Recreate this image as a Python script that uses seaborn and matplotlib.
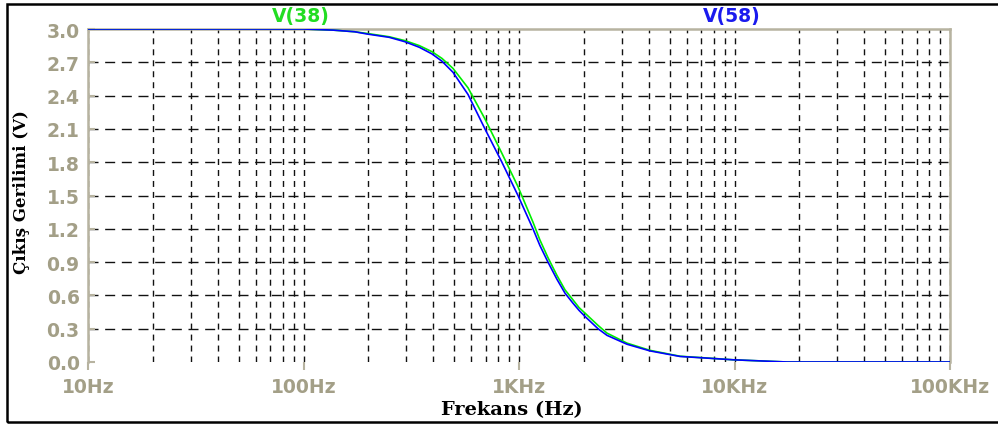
import matplotlib
matplotlib.use("Agg")
import matplotlib.pyplot as plt
from matplotlib.patches import Rectangle
from matplotlib.ticker import FixedLocator, NullFormatter
import seaborn as sns
import pandas as pd

# ---- data ----
freq_hz = [10, 100, 137, 173, 197, 250, 296, 345, 395, 439, 494, 580, 695,
           833, 989, 1161, 1250, 1363, 1500, 1635, 1780, 1900, 2025, 2326,
           2561, 3171, 4054, 5586, 7456, 9840, 17523, 100000]
v58 = [3.0, 3.0, 2.99, 2.975, 2.955, 2.925, 2.885, 2.835, 2.775, 2.71, 2.61,
       2.41, 2.10, 1.80, 1.50, 1.20, 1.05, 0.90, 0.745, 0.62, 0.53, 0.465,
       0.41, 0.30, 0.24, 0.16, 0.10, 0.05, 0.035, 0.02, 0.0, 0.0]
v38 = [3.0, 3.0, 2.99, 2.975, 2.96, 2.93, 2.895, 2.85, 2.795, 2.735, 2.645,
       2.47, 2.19, 1.88, 1.58, 1.26, 1.10, 0.94, 0.78, 0.65, 0.56, 0.49,
       0.44, 0.33, 0.26, 0.17, 0.105, 0.052, 0.036, 0.02, 0.0, 0.0]
series_names = ["V(38)", "V(58)"]
y_ticks = [0.0, 0.3, 0.6, 0.9, 1.2, 1.5, 1.8, 2.1, 2.4, 2.7, 3.0]
x_ticks = [10, 100, 1000, 10000, 100000]
x_tick_labels = ["10Hz", "100Hz", "1KHz", "10KHz", "100KHz"]
x_label = "Frekans (Hz)"
y_label = "Çıkış Gerilimi (V)"

df = pd.DataFrame({
    "f": freq_hz * 2,
    "v": v38 + v58,
    "s": [series_names[0]] * len(freq_hz) + [series_names[1]] * len(freq_hz),
})

GREEN = "#00ee00"
BLUE = "#0000ff"
TICKC = "#a39f87"
SPINEC = "#b7b3a0"

plt.rcParams["lines.scale_dashes"] = False

W, H = 998, 427
fig = plt.figure(figsize=(W / 100, H / 100), dpi=100)
fig.patch.set_facecolor("white")
ax = fig.add_axes([88 / W, 64 / H, 862 / W, 333 / H])
ax.set_xscale("log")

sns.lineplot(data=df, x="f", y="v", hue="s", hue_order=series_names,
             palette={series_names[0]: GREEN, series_names[1]: BLUE},
             estimator=None, sort=True, legend=False, linewidth=1.2, ax=ax,
             zorder=5)

ax.set_xlim(10, 100000)
ax.set_ylim(0, 3.0)

# ticks
ax.xaxis.set_major_locator(FixedLocator(x_ticks))
ax.set_xticklabels(x_tick_labels)
minor = [m * 10 ** d for d in range(1, 5) for m in range(2, 10)]
ax.xaxis.set_minor_locator(FixedLocator(minor))
ax.xaxis.set_minor_formatter(NullFormatter())
ax.yaxis.set_major_locator(FixedLocator(y_ticks))
ax.set_yticklabels([f"{t:.1f}" for t in y_ticks])

ax.tick_params(axis="x", which="major", direction="out", length=6, width=1.5,
               color=SPINEC, labelcolor=TICKC, pad=5, labelsize=13.5)
ax.tick_params(axis="x", which="minor", length=0)
ax.tick_params(axis="y", which="major", direction="in", length=5, width=1.5,
               color=SPINEC, labelcolor=TICKC, pad=6, labelsize=13.5)
for lab in ax.get_xticklabels() + ax.get_yticklabels():
    lab.set_fontweight("bold")
    lab.set_family("DejaVu Sans")

# grid
ax.set_axisbelow(True)
ax.xaxis.grid(True, which="both", color="#111111", linewidth=1.0,
              linestyle=(0, (4.3, 3.6)))
ax.yaxis.grid(True, which="major", color="#111111", linewidth=1.0,
              linestyle=(0, (7.2, 4.8)))
yg = ax.get_ygridlines()
yg[0].set_visible(False)
yg[-1].set_visible(False)

# spines
for side in ["left", "top", "right"]:
    ax.spines[side].set_color(SPINEC)
    ax.spines[side].set_linewidth(1.8)
ax.spines["bottom"].set_visible(False)

# labels
ax.set_xlabel(x_label, fontsize=14, fontweight="bold", family="DejaVu Serif",
              color="black")
ax.xaxis.set_label_coords((512 - 88) / 862, -(410 - 363) / 333)
ax.xaxis.label.set_va("center")
ax.set_ylabel(y_label, fontsize=12, fontweight="bold", family="DejaVu Serif",
              color="black")
ax.yaxis.set_label_coords(-(88 - 22) / 862, (363 - 192) / 333)
ax.yaxis.label.set_va("center")

# series names above plot
fig.text(301 / W, 1 - 16.5 / H, series_names[0], color="#22dd22",
         fontsize=13.5, fontweight="bold", ha="center", va="center")
fig.text(732 / W, 1 - 16.5 / H, series_names[1], color="#1a1aee",
         fontsize=13.5, fontweight="bold", ha="center", va="center")

# outer frame (right edge outside the image)
fig.patches.append(Rectangle((6.5 / W, 4 / H), 1.2, (422.5 - 4) / H,
                             transform=fig.transFigure, fill=False,
                             edgecolor="black", linewidth=1.8))

fig.savefig("out.png", dpi=100, facecolor="white")
